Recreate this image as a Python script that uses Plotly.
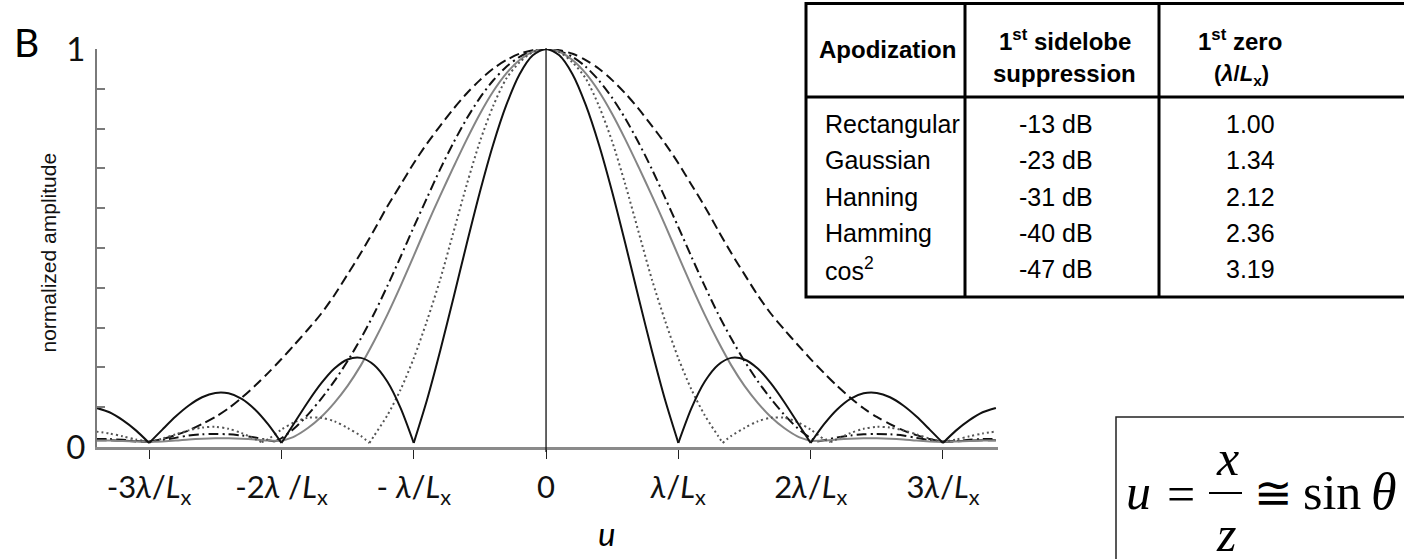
import plotly.graph_objects as go

# ---- far-field amplitude profiles (u in units of lambda/Lx, right half; mirrored for u<0) ----
u_grid = [0.0, 0.1, 0.2, 0.3, 0.4, 0.5, 0.6, 0.7, 0.8, 0.9, 1.0, 1.1, 1.2, 1.3, 1.4, 1.5, 1.6,
          1.7, 1.8, 1.9, 2.0, 2.1, 2.2, 2.3, 2.4, 2.5, 2.6, 2.7, 2.8, 2.9, 3.0, 3.1, 3.2, 3.3, 3.4]

rect_amp = [1.000, 0.984, 0.936, 0.858, 0.757, 0.637, 0.505, 0.368, 0.234, 0.109, 0.000,
            0.089, 0.156, 0.198, 0.216, 0.212, 0.189, 0.151, 0.104, 0.052, 0.000,
            0.047, 0.085, 0.112, 0.126, 0.127, 0.116, 0.095, 0.067, 0.034, 0.000,
            0.032, 0.058, 0.078, 0.089]

gauss_u = [0.0, 0.1, 0.2, 0.3, 0.4, 0.5, 0.6, 0.7, 0.8, 0.9, 1.0, 1.1, 1.2, 1.3, 1.335, 1.4,
           1.5, 1.6, 1.7, 1.8, 1.9, 2.0, 2.1, 2.15, 2.2, 2.3, 2.4, 2.5, 2.6, 2.7, 2.8, 2.9,
           3.0, 3.1, 3.2, 3.3, 3.4]
gauss_amp = [1.000, 0.992, 0.966, 0.925, 0.855, 0.765, 0.655, 0.535, 0.415, 0.310, 0.215,
             0.135, 0.070, 0.018, 0.000, 0.018, 0.038, 0.055, 0.064, 0.064, 0.053, 0.034,
             0.010, 0.002, 0.010, 0.025, 0.036, 0.041, 0.039, 0.032, 0.022, 0.011,
             0.003, 0.009, 0.017, 0.024, 0.029]

hann_amp = [1.000, 0.993, 0.972, 0.938, 0.892, 0.835, 0.770, 0.700, 0.628, 0.553, 0.475,
            0.398, 0.325, 0.258, 0.197, 0.145, 0.102, 0.066, 0.038, 0.017, 0.005,
            0.006, 0.009, 0.011, 0.012, 0.012, 0.011, 0.009, 0.006, 0.004, 0.003,
            0.004, 0.005, 0.006, 0.006]

hamm_u = [0.0, 0.1, 0.2, 0.3, 0.4, 0.5, 0.6, 0.7, 0.8, 0.9, 1.0, 1.1, 1.2, 1.3, 1.4, 1.5,
          1.6, 1.7, 1.8, 1.9, 2.0, 2.05, 2.1, 2.2, 2.3, 2.4, 2.5, 2.6, 2.7, 2.8, 2.9, 3.0,
          3.1, 3.2, 3.3, 3.4]
hamm_amp = [1.000, 0.995, 0.980, 0.955, 0.920, 0.876, 0.823, 0.762, 0.695, 0.622, 0.548,
            0.472, 0.398, 0.328, 0.265, 0.208, 0.157, 0.112, 0.072, 0.038, 0.012, 0.004,
            0.007, 0.014, 0.019, 0.022, 0.023, 0.022, 0.019, 0.013, 0.007, 0.003,
            0.005, 0.008, 0.010, 0.010]

cos2_amp = [1.000, 0.997, 0.988, 0.972, 0.950, 0.921, 0.887, 0.848, 0.805, 0.760, 0.710,
            0.655, 0.600, 0.540, 0.482, 0.428, 0.375, 0.328, 0.288, 0.250, 0.213,
            0.178, 0.145, 0.115, 0.088, 0.066, 0.048, 0.032, 0.020, 0.010, 0.003,
            0.004, 0.006, 0.007, 0.007]

# ---- axis ticks ----
x_tick_vals = [-3, -2, -1, 0, 1, 2, 3]
x_tick_text = ["-3<i>λ</i>/<i>L</i><sub>x</sub>", "-2<i>λ</i> /<i>L</i><sub>x</sub>",
               "- <i>λ</i>/<i>L</i><sub>x</sub>", "0", "<i>λ</i>/<i>L</i><sub>x</sub>",
               "2<i>λ</i>/<i>L</i><sub>x</sub>", "3<i>λ</i>/<i>L</i><sub>x</sub>"]

# ---- table contents ----
table_names = ["Rectangular", "Gaussian", "Hanning", "Hamming", "cos<sup>2</sup>"]
table_sidelobe = ["-13 dB", "-23 dB", "-31 dB", "-40 dB", "-47 dB"]
table_zero = ["1.00", "1.34", "2.12", "2.36", "3.19"]

# ---- page geometry (pixels) ----
W, H = 1404, 559
ML, MT = 97, 49
PW, PH = 901, 398
MR, MB = W - ML - PW, H - MT - PH
X_RANGE = [-3.394, 3.416]
Y_RANGE = [-0.0102, 1.0]


def px2x(px):
    return (px - ML) / PW


def py2y(py):
    return (MT + PH - py) / PH


def mirror(u, a):
    xs = [-v for v in reversed(u[1:])] + list(u)
    ys = list(reversed(a[1:])) + list(a)
    return xs, ys


def split_at_minima(xs, ys):
    """Break the curve at its local minima so each lobe is smoothed separately."""
    ox, oy = [], []
    for i, (x, y) in enumerate(zip(xs, ys)):
        ox.append(x)
        oy.append(y)
        if 0 < i < len(ys) - 1 and y <= ys[i - 1] and y <= ys[i + 1]:
            ox += [None, x]
            oy += [None, y]
    return ox, oy


fig = go.Figure()

curves = [
    (u_grid, cos2_amp, dict(color="#111111", width=2, dash="10px,5px")),
    (hamm_u, hamm_amp, dict(color="#111111", width=2, dash="10px,4px,2px,4px")),
    (u_grid, hann_amp, dict(color="#858585", width=2, dash="solid")),
    (gauss_u, gauss_amp, dict(color="#555555", width=2, dash="2px,3px")),
    (u_grid, rect_amp, dict(color="#111111", width=2, dash="solid")),
]
for u, a, style in curves:
    xs, ys = split_at_minima(*mirror(u, a))
    fig.add_trace(go.Scatter(x=xs, y=ys, mode="lines", line=dict(shape="spline", smoothing=0.8, **style),
                             connectgaps=False, hoverinfo="skip", showlegend=False))

n_ticks = 11
y_ticks = [Y_RANGE[0] + k * (Y_RANGE[1] - Y_RANGE[0]) / (n_ticks - 1) for k in range(n_ticks)]
y_text = ["0"] + [""] * (n_ticks - 2) + ["1"]

shapes = [
    # centre line
    dict(type="line", xref="x", yref="paper", x0=0, x1=0, y0=py2y(452), y1=py2y(48),
         line=dict(color="#111111", width=1.3)),
    # fraction bar of the equation
    dict(type="line", xref="paper", yref="paper", x0=px2x(1209), x1=px2x(1242), y0=py2y(493), y1=py2y(493),
         line=dict(color="#000000", width=2)),
    # equation frame
    dict(type="rect", xref="paper", yref="paper", x0=px2x(1116), x1=px2x(1420), y0=py2y(417), y1=py2y(580),
         line=dict(color="#222222", width=1.5)),
]

# table frame
T_LEFT, T_RIGHT, T_TOP, T_BOT = 806, 1420, 3.5, 297
T_COL1, T_COL2, T_HEAD = 965, 1159, 97
tline = dict(color="#000000", width=3)
shapes += [
    dict(type="rect", xref="paper", yref="paper", x0=px2x(T_LEFT), x1=px2x(T_RIGHT),
         y0=py2y(T_BOT), y1=py2y(T_TOP), line=tline, fillcolor="white", layer="above"),
    dict(type="line", xref="paper", yref="paper", x0=px2x(T_COL1), x1=px2x(T_COL1),
         y0=py2y(T_BOT), y1=py2y(T_TOP), line=tline),
    dict(type="line", xref="paper", yref="paper", x0=px2x(T_COL2), x1=px2x(T_COL2),
         y0=py2y(T_BOT), y1=py2y(T_TOP), line=tline),
    dict(type="line", xref="paper", yref="paper", x0=px2x(T_LEFT), x1=px2x(T_RIGHT),
         y0=py2y(T_HEAD), y1=py2y(T_HEAD), line=tline),
]

ann = []


def label(text, px, py, size, family="Liberation Sans", xanchor="center", angle=0, color="#000000"):
    ann.append(dict(text=text, x=px2x(px), y=py2y(py), xref="paper", yref="paper",
                    xanchor=xanchor, yanchor="middle", showarrow=False, textangle=angle,
                    font=dict(family=family, size=size, color=color)))


sans = "Lato, Liberation Sans"
label("B", 26, 42, 39, sans)
label("normalized amplitude", 47.5, 253, 21, "Liberation Sans", angle=-90, color="#111111")
label("<i>u</i>", 606, 533, 33, sans)

# table header
label("<b>Apodization</b>", 887, 50, 24)
label("<b>1<sup>st</sup> sidelobe</b>", 1065, 40, 24)
label("<b>suppression</b>", 1064, 73.5, 24)
label("<b>1<sup>st</sup> zero</b>", 1240, 40, 24)
label("<b>(<i>λ</i>/<i>L</i><sub>x</sub>)</b>", 1241, 75, 22)
# table rows
row_y = [123.5, 160, 196.5, 233, 269]
for name, sl, z, ry in zip(table_names, table_sidelobe, table_zero, row_y):
    label(name, 823, ry, 25, xanchor="left")
    label(sl, 1056, ry, 25)
    label(z, 1277, ry, 25, xanchor="right")

# equation u = x/z ≅ sin θ
serif = "Liberation Serif, DejaVu Serif"
label("<i>u</i>", 1138, 491.5, 50, serif)
label("=", 1181, 494, 50, serif)
label("<i>x</i>", 1227, 458, 50, serif)
label("<i>z</i>", 1226, 534, 50, serif)
label("≅", 1273, 493, 46, serif)
label("sin", 1332, 491.5, 50, serif)
label("<i>θ</i>", 1384, 491.5, 52, serif)

fig.update_layout(
    width=W, height=H,
    margin=dict(l=ML, r=MR, t=MT, b=MB, pad=0),
    paper_bgcolor="white", plot_bgcolor="white",
    showlegend=False,
    shapes=shapes,
    annotations=ann,
    xaxis=dict(range=X_RANGE, showgrid=False, zeroline=False, showline=True,
               linecolor="#8a8a8a", linewidth=3, ticks="outside", ticklen=9, tickwidth=1.3,
               tickcolor="#222222", tickvals=x_tick_vals, ticktext=x_tick_text,
               tickfont=dict(family=sans, size=31, color="#111111"), ticklabelstandoff=2),
    yaxis=dict(range=Y_RANGE, showgrid=False, zeroline=False, showline=True,
               linecolor="#7a7a7a", linewidth=2, ticks="inside", ticklen=8, tickwidth=2,
               tickcolor="#7a7a7a", tickvals=y_ticks, ticktext=y_text,
               tickfont=dict(family=sans, size=33, color="#111111"), ticklabelstandoff=3),
)

fig.write_html("out.html")
